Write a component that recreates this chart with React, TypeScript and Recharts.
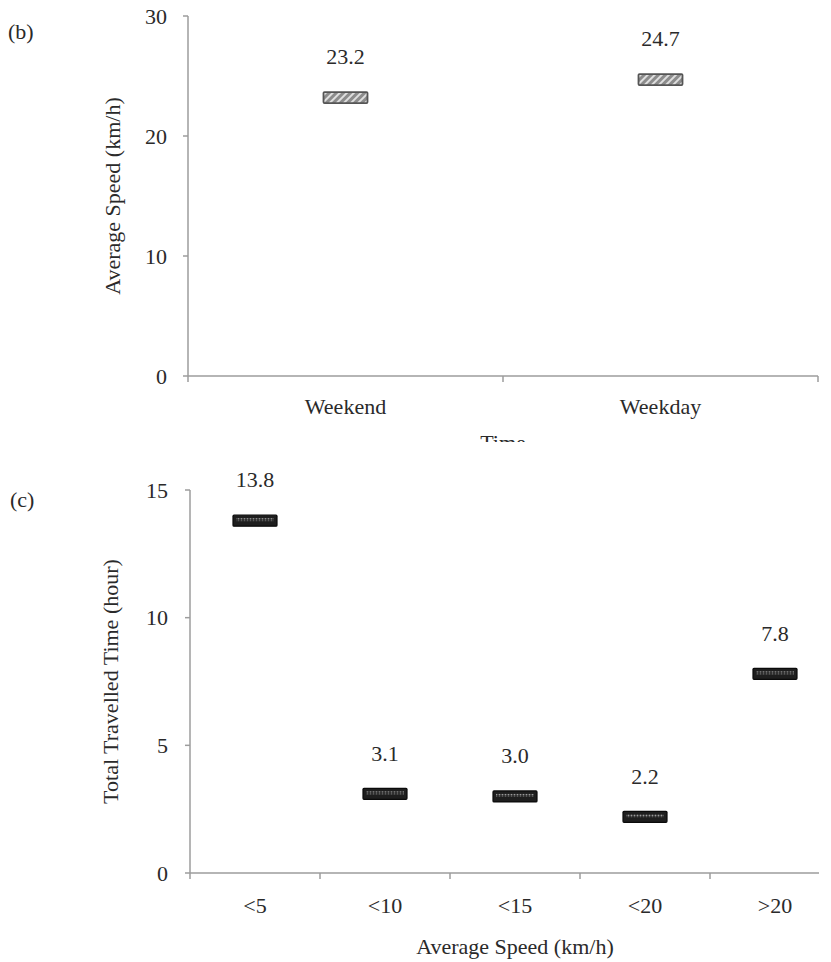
import React from "react";
import { BarChart, Bar, XAxis, YAxis, LabelList } from "recharts";

// (b) average speed by time of week
const timeCategories = ["Weekend", "Weekday"];
const timeSpeeds = [23.2, 24.7];
const speedTicks = [0, 10, 20, 30];

// (c) total travelled time by speed class
const speedCategories = ["<5", "<10", "<15", "<20", ">20"];
const travelHours = [13.8, 3.1, 3.0, 2.2, 7.8];
const hourTicks = [0, 5, 10, 15];

const font = "'Liberation Serif', 'Times New Roman', serif";
const ink = "#2a2a2a";
const axisGray = "#9d9d9d";

const timeData = timeCategories.map((name, i) => ({ name, value: timeSpeeds[i] }));
const hourData = speedCategories.map((name, i) => ({ name, value: travelHours[i] }));

const tickStyle = { fontSize: 22, fill: ink, fontFamily: font };

// Excel-like category axis: label at band centre, tick marks on band edges
function makeCategoryTick(count: number, margin: number) {
  return (props: any) => {
    const { x, y, payload, index, width } = props;
    const half = payload?.offset ? payload.offset : width / (2 * count);
    const axisY = y - margin;
    return (
      <g>
        <line x1={x - half} x2={x - half} y1={axisY} y2={axisY + 6} stroke={axisGray} strokeWidth={1.5} />
        {index === count - 1 && (
          <line x1={x + half} x2={x + half} y1={axisY} y2={axisY + 6} stroke={axisGray} strokeWidth={1.5} />
        )}
        <text x={x} y={y} dy="0.71em" textAnchor="middle" {...tickStyle}>
          {payload.value}
        </text>
      </g>
    );
  };
}

function makeMarker(kind: "hatch" | "dots") {
  return (props: any) => {
    const { x, y, width } = props;
    const cx = x + width / 2;
    if (kind === "hatch") {
      return (
        <rect x={cx - 22} y={y - 5.5} width={44} height={11} fill="url(#hatch)" stroke="#555" strokeWidth={1.8} rx={1} />
      );
    }
    return (
      <g>
        <rect x={cx - 22} y={y - 5.5} width={44} height={11} fill="#1e1e1e" stroke="#0a0a0a" strokeWidth={1.2} rx={1} />
        <rect x={cx - 19} y={y - 2.5} width={38} height={3} fill="url(#dots)" />
      </g>
    );
  };
}

const valueLabel = (props: any) => {
  const vb = props.viewBox || {};
  const x = props.x ?? vb.x;
  const y = props.y ?? vb.y;
  const width = props.width ?? vb.width;
  return (
    <text x={x + width / 2} y={y - 41} dy="0.35em" textAnchor="middle" {...tickStyle}>
      {Number(props.value).toFixed(1)}
    </text>
  );
};

function axisTitle(text: string, below: number) {
  return (props: any) => {
    const vb = props.viewBox;
    return (
      <text x={vb.x + vb.width / 2} y={vb.y + below} textAnchor="middle" {...tickStyle}>
        {text}
      </text>
    );
  };
}

function yTitle(text: string, cx: number) {
  return (props: any) => {
    const vb = props.viewBox;
    const cy = vb.y + vb.height / 2;
    return (
      <text
        x={cx}
        y={cy}
        dy="0.35em"
        textAnchor="middle"
        transform={`rotate(-90, ${cx}, ${cy})`}
        {...tickStyle}
      >
        {text}
      </text>
    );
  };
}

export default function App() {
  return (
    <div style={{ position: "absolute", left: 0, top: 0, width: 831, height: 962, background: "#fff", overflow: "hidden" }}>
      <svg width={831} height={962} style={{ position: "absolute", left: 0, top: 0 }}>
        <defs>
          <pattern id="hatch" width="5" height="5" patternUnits="userSpaceOnUse" patternTransform="rotate(45)">
            <rect width="5" height="5" fill="#8c8c8c" />
            <line x1="1" y1="0" x2="1" y2="5" stroke="#e8e8e8" strokeWidth="1.8" />
          </pattern>
          <pattern id="dots" width="3" height="3" patternUnits="userSpaceOnUse">
            <rect width="3" height="3" fill="#2a2a2a" />
            <circle cx="1.5" cy="1.5" r="0.9" fill="#9a9a9a" />
          </pattern>
        </defs>
        <text x={8} y={39} {...tickStyle}>(b)</text>
        <text x={10} y={507} {...tickStyle}>(c)</text>
      </svg>

      <div style={{ position: "absolute", left: 0, top: 0, width: 831, height: 442, overflow: "hidden" }}>
        <BarChart width={831} height={442} data={timeData} margin={{ top: 16, right: 13, bottom: 0, left: 0 }}>
          <XAxis
            dataKey="name"
            type="category"
            height={66}
            axisLine={{ stroke: axisGray, strokeWidth: 1.5 }}
            tickLine={false}
            tickSize={0}
            tickMargin={22}
            interval={0}
            tick={makeCategoryTick(timeCategories.length, 22)}
            label={{ content: axisTitle("Time", 73.5) }}
          />
          <YAxis
            type="number"
            domain={[0, 30]}
            ticks={speedTicks}
            interval={0}
            width={188}
            axisLine={{ stroke: axisGray, strokeWidth: 1.5 }}
            tickLine={{ stroke: axisGray, strokeWidth: 1.5 }}
            tickSize={5}
            tickMargin={16}
            tick={tickStyle}
            label={{ content: yTitle("Average Speed (km/h)", 112) }}
          />
          <Bar dataKey="value" shape={makeMarker("hatch")} isAnimationActive={false}>
            <LabelList dataKey="value" content={valueLabel} />
          </Bar>
        </BarChart>
      </div>

      <div style={{ position: "absolute", left: 0, top: 442, width: 819, height: 520, overflow: "hidden" }}>
        <BarChart width={840} height={520} data={hourData} margin={{ top: 48, right: 0, bottom: 0, left: 0 }}>
          <XAxis
            dataKey="name"
            type="category"
            height={89}
            axisLine={{ stroke: axisGray, strokeWidth: 1.5 }}
            tickLine={false}
            tickSize={0}
            tickMargin={24}
            interval={0}
            tick={makeCategoryTick(speedCategories.length, 24)}
            label={{ content: axisTitle("Average Speed (km/h)", 81) }}
          />
          <YAxis
            type="number"
            domain={[0, 15]}
            ticks={hourTicks}
            interval={0}
            width={190}
            axisLine={{ stroke: axisGray, strokeWidth: 1.5 }}
            tickLine={{ stroke: axisGray, strokeWidth: 1.5 }}
            tickSize={5}
            tickMargin={17}
            tick={tickStyle}
            label={{ content: yTitle("Total Travelled Time (hour)", 110) }}
          />
          <Bar dataKey="value" shape={makeMarker("dots")} isAnimationActive={false}>
            <LabelList dataKey="value" content={valueLabel} />
          </Bar>
        </BarChart>
      </div>
    </div>
  );
}
